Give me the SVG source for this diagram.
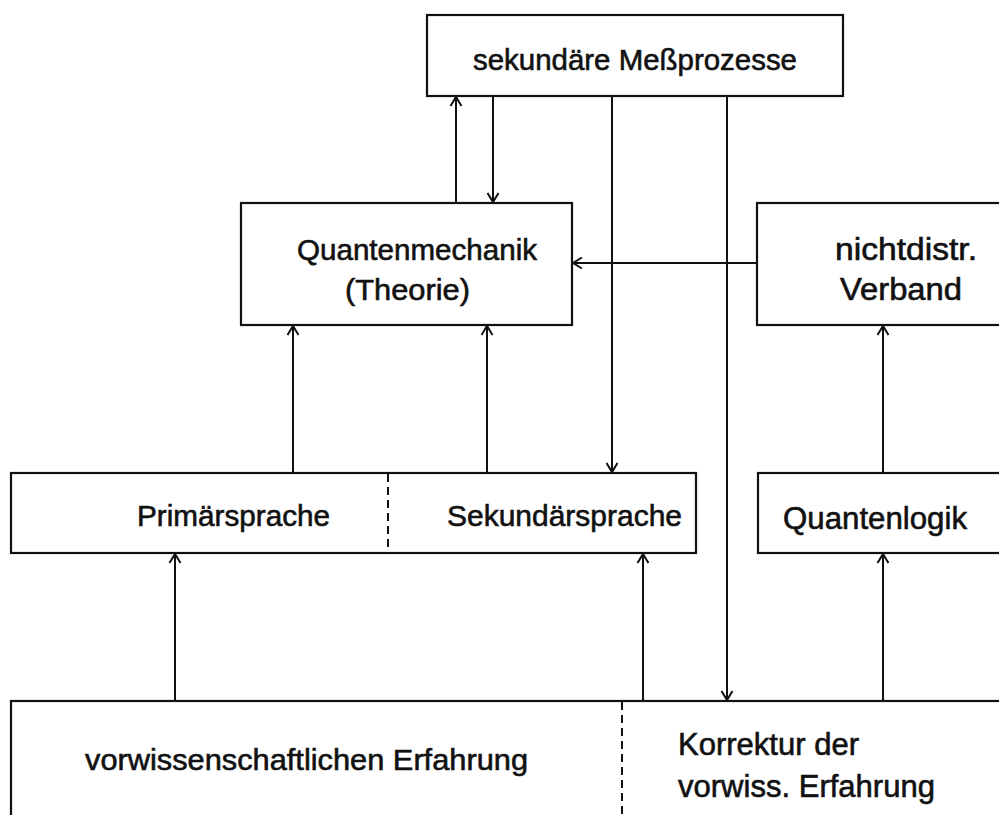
<svg xmlns="http://www.w3.org/2000/svg" width="999" height="815" viewBox="0 0 999 815">
<style>
.box{fill:#fff;stroke:#111;stroke-width:2.2}
.dash{fill:none;stroke:#111;stroke-width:2;stroke-dasharray:8 5}
.t{font-family:"Liberation Sans",Arial,sans-serif;font-size:30px;fill:#111;stroke:#111;stroke-width:0.6}
.b{font-size:31px}
.conn line{stroke:#111;stroke-width:2;marker-end:url(#ah)}
</style>
<defs>
<marker id="ah" markerUnits="userSpaceOnUse" markerWidth="14" markerHeight="14" refX="0" refY="0" viewBox="-10 -7 12 14" orient="auto" overflow="visible">
<path d="M-9,-5.5 L0,0 L-9,5.5" fill="none" stroke="#111" stroke-width="2"/>
</marker>
</defs>
<rect width="999" height="815" fill="#fff"/>
<g id="n-messprozesse">
<rect class="box" x="427" y="15" width="416" height="81"/>
<text class="t" x="473" y="70" textLength="324" lengthAdjust="spacingAndGlyphs">sekundäre Meßprozesse</text>
</g>
<g id="n-quantenmechanik">
<rect class="box" x="241" y="203" width="331" height="122"/>
<text class="t" x="297" y="260" textLength="240" lengthAdjust="spacingAndGlyphs">Quantenmechanik</text>
<text class="t" x="345" y="300" textLength="125" lengthAdjust="spacingAndGlyphs">(Theorie)</text>
</g>
<g id="n-verband">
<rect class="box" x="757" y="203" width="260" height="122"/>
<text class="t b" x="835" y="260" textLength="142" lengthAdjust="spacingAndGlyphs">nichtdistr.</text>
<text class="t b" x="840" y="300" textLength="122" lengthAdjust="spacingAndGlyphs">Verband</text>
</g>
<g id="n-sprache">
<rect class="box" x="11" y="473" width="685" height="80"/>
<line class="dash" x1="388" y1="474" x2="388" y2="552"/>
<text class="t" x="137" y="526" textLength="193" lengthAdjust="spacingAndGlyphs">Primärsprache</text>
<text class="t" x="447" y="526" textLength="235" lengthAdjust="spacingAndGlyphs">Sekundärsprache</text>
</g>
<g id="n-quantenlogik">
<rect class="box" x="758" y="473" width="260" height="80"/>
<text class="t b" x="783" y="529" textLength="184" lengthAdjust="spacingAndGlyphs">Quantenlogik</text>
</g>
<g id="n-erfahrung">
<rect class="box" x="11" y="701" width="1010" height="130"/>
<line class="dash" x1="622" y1="702" x2="622" y2="815"/>
<text class="t" x="85" y="770" textLength="443" lengthAdjust="spacingAndGlyphs">vorwissenschaftlichen Erfahrung</text>
<text class="t b" x="678" y="755" textLength="181" lengthAdjust="spacingAndGlyphs">Korrektur der</text>
<text class="t b" x="678" y="797" textLength="257" lengthAdjust="spacingAndGlyphs">vorwiss. Erfahrung</text>
</g>
<g id="connectors" class="conn">
<line x1="456" y1="203" x2="456" y2="97"/>
<line x1="493" y1="96" x2="493" y2="202"/>
<line x1="612" y1="96" x2="612" y2="472"/>
<line x1="727" y1="96" x2="727" y2="700"/>
<line x1="757" y1="263" x2="573" y2="263"/>
<line x1="293" y1="473" x2="293" y2="326"/>
<line x1="487" y1="473" x2="487" y2="326"/>
<line x1="883" y1="473" x2="883" y2="326"/>
<line x1="175" y1="701" x2="175" y2="554"/>
<line x1="643" y1="701" x2="643" y2="554"/>
<line x1="883" y1="701" x2="883" y2="554"/>
</g>
</svg>
